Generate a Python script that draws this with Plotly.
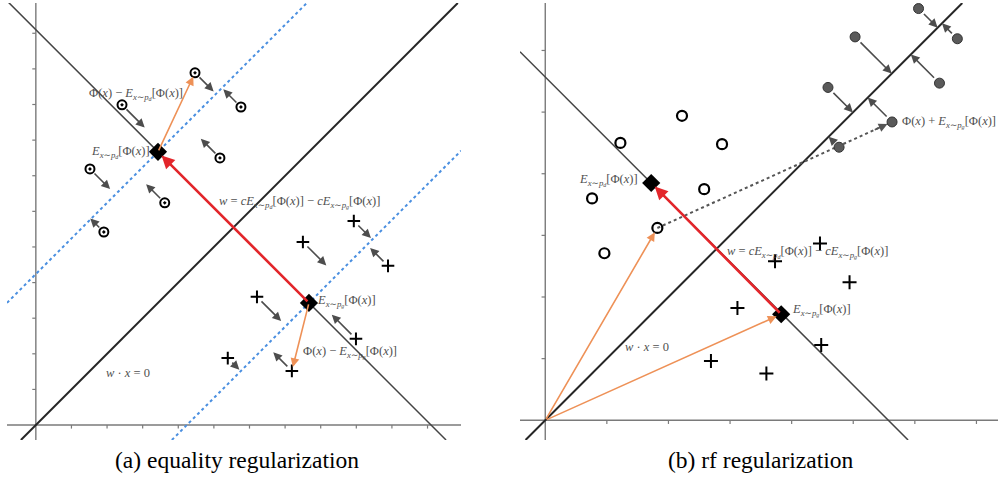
import numpy as np
import plotly.graph_objects as go

# ---------------- data : panel (a) equality regularization ----------------
a_circles_x = [4.47, 2.42, 5.76, 5.17, 1.52, 3.62, 1.91]
a_circles_y = [9.89, 8.99, 8.93, 7.50, 7.19, 6.24, 5.42]
a_circle_arrow_len = [0.62, 0.78, 0.58, 0.64, 0.68, 0.62, 0.42]
a_plus_x = [7.50, 9.89, 6.21, 8.99, 5.39, 7.19, 8.93]
a_plus_y = [5.14, 4.47, 3.60, 2.42, 1.88, 1.52, 5.73]
a_plus_arrow_len = [0.81, 0.59, 0.84, 0.84, 0.34, 0.62, 0.56]
a_mean_d = [3.43, 7.67]
a_mean_g = [7.67, 3.43]
a_band = 4.24
a_xticks = list(range(1, 12))
a_yticks = list(range(1, 12))
a_xrange = [-0.81, 11.94]
a_yrange = [-0.42, 11.85]

# ---------------- data : panel (b) rf regularization ----------------
b_circles_x = [2.22, 1.22, 2.87, 2.58, 0.76, 1.82, 0.96]
b_circles_y = [4.94, 4.50, 4.48, 3.75, 3.60, 3.12, 2.71]
b_plus_x = [4.46, 3.73, 4.94, 3.12, 4.48, 2.69, 3.59]
b_plus_y = [2.87, 2.58, 2.24, 1.82, 1.22, 0.96, 0.76]
b_shift_x = [6.06, 6.69, 5.03, 6.40, 4.59, 5.63, 4.77]
b_shift_y = [6.68, 6.19, 6.22, 5.47, 5.40, 4.84, 4.43]
b_mean_d = [1.72, 3.85]
b_mean_g = [3.83, 1.72]
b_sel = 5          # index of the open circle shifted by E_pg
b_sel_shift = 5    # index of its shifted point
b_xticks = list(range(1, 8))
b_yticks = list(range(1, 7))
b_xrange = [-0.41, 7.35]
b_yrange = [-0.32, 6.77]

AXC = "#7a7a7a"
ORANGE = "#EE9157"
RED = "#E3262B"
BLUE = "#4A8FE0"
TXT = "#505050"
MFONT = "Liberation Serif, Times New Roman, DejaVu Serif, serif"

fig = go.Figure()
ann = []


def line(xs, ys, xa, ya, color, width, dash="solid"):
    fig.add_trace(go.Scatter(x=xs, y=ys, xaxis=xa, yaxis=ya, mode="lines",
                             line=dict(color=color, width=width, dash=dash),
                             hoverinfo="skip", showlegend=False))


def arrow(xa, ya, tail, head, color, width, size=1.0, standoff=0, style=2):
    ann.append(dict(x=head[0], y=head[1], ax=tail[0], ay=tail[1],
                    xref=xa, yref=ya, axref=xa, ayref=ya, text="",
                    showarrow=True, arrowhead=style, arrowsize=size,
                    arrowwidth=width, arrowcolor=color, standoff=standoff))


def label(xa, ya, x, y, text, anchor="left"):
    ann.append(dict(x=x, y=y, xref=xa, yref=ya, text=text, showarrow=False,
                    xanchor=anchor, yanchor="middle",
                    font=dict(family=MFONT, size=12.5, color=TXT)))


def axes(xa, ya, xr, yr, xt, yt, tick_len_x, tick_len_y):
    line([xr[0], xr[1]], [0, 0], xa, ya, AXC, 1.4)
    line([0, 0], [yr[0], yr[1]], xa, ya, AXC, 1.4)
    tx, ty = [], []
    for t in xt:
        tx += [t, t, None]
        ty += [0, -tick_len_y, None]
    for t in yt:
        tx += [0, -tick_len_x, None]
        ty += [t, t, None]
    line(tx, ty, xa, ya, AXC, 1.2)


def E(sub):
    return ("<i>E</i><sub><i>x</i>∼<i>p</i><sub><i>%s</i></sub></sub>[Φ(<i>x</i>)]" % sub)


W_TXT = "<i>w</i> = <i>c</i>" + E("d") + " − <i>c</i>" + E("g")
WX_TXT = "<i>w</i> · <i>x</i> = 0"

# ===================== panel (a) =====================
xa, ya = "x", "y"
axes(xa, ya, a_xrange, a_yrange, a_xticks, a_yticks, 0.1, 0.1)
S = a_mean_d[0] + a_mean_d[1]
line([a_yrange[0], a_yrange[1]], [a_yrange[0], a_yrange[1]], xa, ya, "#262626", 2)
line([a_xrange[0], S - a_yrange[0]], [S - a_xrange[0], a_yrange[0]], xa, ya, "#444444", 1.5)
line([a_xrange[0], a_yrange[1] - a_band], [a_xrange[0] + a_band, a_yrange[1]], xa, ya, BLUE, 2, "dot")
line([a_yrange[0] + a_band, a_xrange[1]], [a_yrange[0], a_xrange[1] - a_band], xa, ya, BLUE, 2, "dot")


def band_arrows(px, py, lens, c):
    for x, y, L in zip(px, py, lens):
        d = (y - x) - c
        s = 1 if d > 0 else -1
        ux, uy = s / np.sqrt(2), -s / np.sqrt(2)
        g = 0.12
        arrow(xa, ya, (x + ux * g, y + uy * g), (x + ux * (g + L), y + uy * (g + L)),
              "#4d4d4d", 1.6, 1.1)


band_arrows(a_circles_x, a_circles_y, a_circle_arrow_len, a_band)
band_arrows(a_plus_x, a_plus_y, a_plus_arrow_len, -a_band)

arrow(xa, ya, a_mean_g, a_mean_d, RED, 2.6, 1.0, standoff=5)
arrow(xa, ya, a_mean_d, (a_circles_x[0], a_circles_y[0]), ORANGE, 1.6, 1.1, standoff=4)
arrow(xa, ya, a_mean_g, (a_plus_x[5], a_plus_y[5]), ORANGE, 1.6, 1.1, standoff=4)

fig.add_trace(go.Scatter(x=a_circles_x, y=a_circles_y, xaxis=xa, yaxis=ya, mode="markers",
                         marker=dict(symbol="circle-dot", size=9, color="white",
                                     line=dict(color="black", width=2)),
                         hoverinfo="skip", showlegend=False))
fig.add_trace(go.Scatter(x=a_plus_x, y=a_plus_y, xaxis=xa, yaxis=ya, mode="markers",
                         marker=dict(symbol="cross-thin", size=9, color="black",
                                     line=dict(color="black", width=2)),
                         hoverinfo="skip", showlegend=False))
fig.add_trace(go.Scatter(x=[a_mean_d[0], a_mean_g[0]], y=[a_mean_d[1], a_mean_g[1]],
                         xaxis=xa, yaxis=ya, mode="markers",
                         marker=dict(symbol="diamond", size=14, color="black"),
                         hoverinfo="skip", showlegend=False))

label(xa, ya, 1.43, 9.30, "Φ(<i>x</i>) − " + E("d"))
label(xa, ya, 3.26, 7.67, E("d"), "right")
label(xa, ya, 5.08, 6.26, W_TXT)
label(xa, ya, 7.84, 3.48, E("g"))
label(xa, ya, 7.44, 2.05, "Φ(<i>x</i>) − " + E("g"))
label(xa, ya, 1.91, 1.46, WX_TXT)

# ===================== panel (b) =====================
xa, ya = "x2", "y2"
axes(xa, ya, b_xrange, b_yrange, b_xticks, b_yticks, 0.06, 0.06)
S2 = b_mean_d[0] + b_mean_d[1]
line([b_yrange[0], b_yrange[1]], [b_yrange[0], b_yrange[1]], xa, ya, "#262626", 2)
line([b_xrange[0], S2 - b_yrange[0]], [S2 - b_xrange[0], b_yrange[0]], xa, ya, "#444444", 1.5)

for x, y in zip(b_shift_x, b_shift_y):
    m = (x + y) / 2
    dx, dy = m - x, m - y
    n = np.hypot(dx, dy)
    g = 0.09
    arrow(xa, ya, (x + dx / n * g, y + dy / n * g), (m, m), "#4d4d4d", 1.6, 1.1)

cx, cy = b_circles_x[b_sel], b_circles_y[b_sel]
sx, sy = b_shift_x[b_sel_shift], b_shift_y[b_sel_shift]
line([cx, sx], [cy, sy], xa, ya, "#555555", 2, "dot")
arrow(xa, ya, (sx - (sx - cx) * 0.08, sy - (sy - cy) * 0.08), (sx, sy), "#555555", 1.6, 1.1, standoff=5)

arrow(xa, ya, b_mean_g, b_mean_d, RED, 2.6, 1.0, standoff=5)
arrow(xa, ya, (0, 0), b_mean_g, ORANGE, 1.6, 1.1, standoff=5)
arrow(xa, ya, (0, 0), (cx, cy), ORANGE, 1.6, 1.1, standoff=5)

fig.add_trace(go.Scatter(x=b_circles_x, y=b_circles_y, xaxis=xa, yaxis=ya, mode="markers",
                         marker=dict(symbol="circle-open", size=10, color="black",
                                     line=dict(color="black", width=2.2)),
                         hoverinfo="skip", showlegend=False))
fig.add_trace(go.Scatter(x=b_plus_x, y=b_plus_y, xaxis=xa, yaxis=ya, mode="markers",
                         marker=dict(symbol="cross-thin", size=10, color="black",
                                     line=dict(color="black", width=2)),
                         hoverinfo="skip", showlegend=False))
fig.add_trace(go.Scatter(x=b_shift_x, y=b_shift_y, xaxis=xa, yaxis=ya, mode="markers",
                         marker=dict(symbol="circle", size=10, color="#5a5a5a",
                                     line=dict(color="#333333", width=1)),
                         hoverinfo="skip", showlegend=False))
fig.add_trace(go.Scatter(x=[b_mean_d[0], b_mean_g[0]], y=[b_mean_d[1], b_mean_g[1]],
                         xaxis=xa, yaxis=ya, mode="markers",
                         marker=dict(symbol="diamond", size=14, color="black"),
                         hoverinfo="skip", showlegend=False))

label(xa, ya, 1.53, 3.90, E("d"), "right")
label(xa, ya, 5.76, 4.84, "Φ(<i>x</i>) + " + E("g"))
label(xa, ya, 2.92, 2.73, W_TXT)
label(xa, ya, 3.98, 1.79, E("g"))
label(xa, ya, 1.27, 1.19, WX_TXT)

for cx_, txt in [(0.2375, "(a) equality regularization"), (0.7625, "(b) rf regularization")]:
    ann.append(dict(x=cx_, y=0.0356, xref="paper", yref="paper", text=txt, showarrow=False,
                    xanchor="center", yanchor="middle",
                    font=dict(family=MFONT, size=23.5, color="black")))

ax_common = dict(visible=False, showgrid=False, zeroline=False, fixedrange=True)
fig.update_layout(
    width=998, height=477, margin=dict(l=0, r=0, t=0, b=0),
    paper_bgcolor="white", plot_bgcolor="white", showlegend=False,
    font=dict(family=MFONT),
    xaxis=dict(domain=[7 / 998, 461 / 998], range=a_xrange, **ax_common),
    yaxis=dict(domain=[37 / 477, 474 / 477], range=a_yrange, **ax_common),
    xaxis2=dict(domain=[520 / 998, 1.0], range=b_xrange, **ax_common),
    yaxis2=dict(domain=[37 / 477, 474 / 477], range=b_yrange, **ax_common),
    annotations=ann,
)
fig.write_html("out.html", config={"displayModeBar": False},
               post_script="document.body.style.margin='0px';")
